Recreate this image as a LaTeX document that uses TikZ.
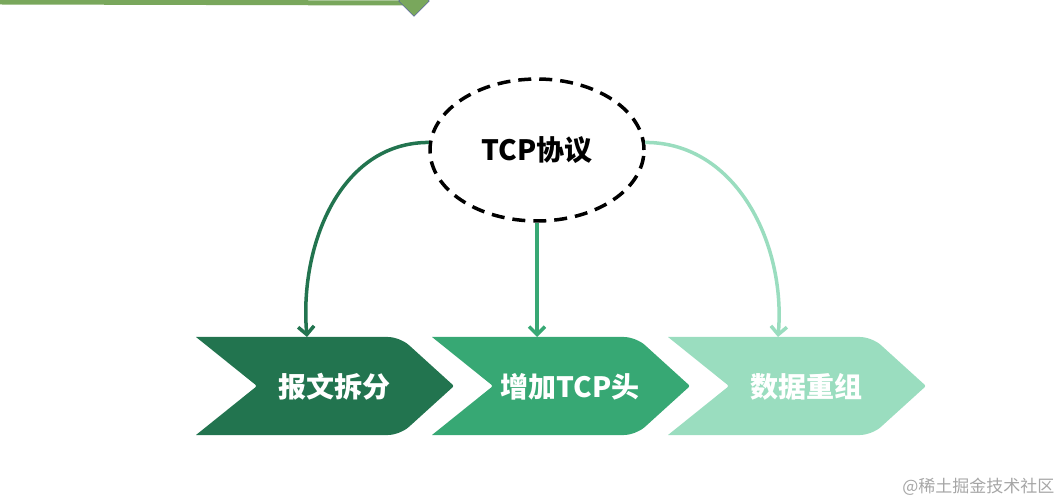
\documentclass[tikz,border=0pt]{standalone}
\usepackage{fontspec}
\newfontfamily\cjk{Noto Sans CJK SC}
\usepackage{tikz}
\usetikzlibrary{arrows.meta,shapes.geometric}
\definecolor{stepdark}{HTML}{22744F}
\definecolor{stepmid}{HTML}{37A874}
\definecolor{steplight}{HTML}{9ADDBF}
\definecolor{barcol}{HTML}{79A75C}

% one chevron: left x, colour, name, text
\newcommand{\chev}[4]{%
  \fill[#2] (#1,337) [rounded corners=12pt] -- ({#1+204},337) [rounded corners=2pt] -- ({#1+258},386)
    [rounded corners=12pt] -- ({#1+204},435) [sharp corners] -- (#1,435) [rounded corners=2pt] -- ({#1+61},386) [sharp corners] -- cycle;
  \node[lab] (#3) at ({#1+138},387) {#4};
}

\begin{document}
\begin{tikzpicture}[x=1pt,y=-1pt,
  lab/.style={text=white,font=\cjk\bfseries\fontsize{28}{32}\selectfont},
  link/.style={line width=3.5pt,-{Straight Barb[length=8pt,width=16pt]}}]
  \clip (0,0) rectangle (1063,502);
  % top bar
  \draw[barcol,line width=5pt] (0,2) -- (408,3);
  \node[diamond,fill=barcol,draw=blue!40!gray,thin,minimum width=31pt,minimum height=31pt,inner sep=0pt] (dia) at (414,1) {};
  % steps
  \chev{196}{stepdark}{s1}{报文拆分}
  \chev{432}{stepmid}{s2}{增加TCP头}
  \chev{668}{steplight}{s3}{数据重组}
  \coordinate (t1) at (307,337);
  \coordinate (t2) at (537,337);
  \coordinate (t3) at (778,337);
  % protocol
  \node[ellipse,draw,dash pattern=on 13pt off 8pt,line width=3.5pt,minimum width=214pt,minimum height=142pt,
    font=\cjk\bfseries\fontsize{28}{32}\selectfont] (tcp) at (537,150) {TCP协议};
  \draw[link,stepdark] (tcp.176) to[out=180,in=95] (t1);
  \draw[link,stepmid] (tcp.south) -- (t2);
  \draw[link,steplight] (tcp.4) to[out=0,in=85] (t3);
  \node[text=gray!70,font=\cjk\fontsize{17}{20}\selectfont,anchor=east] (wm) at (1058,487) {@稀土掘金技术社区};
\end{tikzpicture}
\end{document}
